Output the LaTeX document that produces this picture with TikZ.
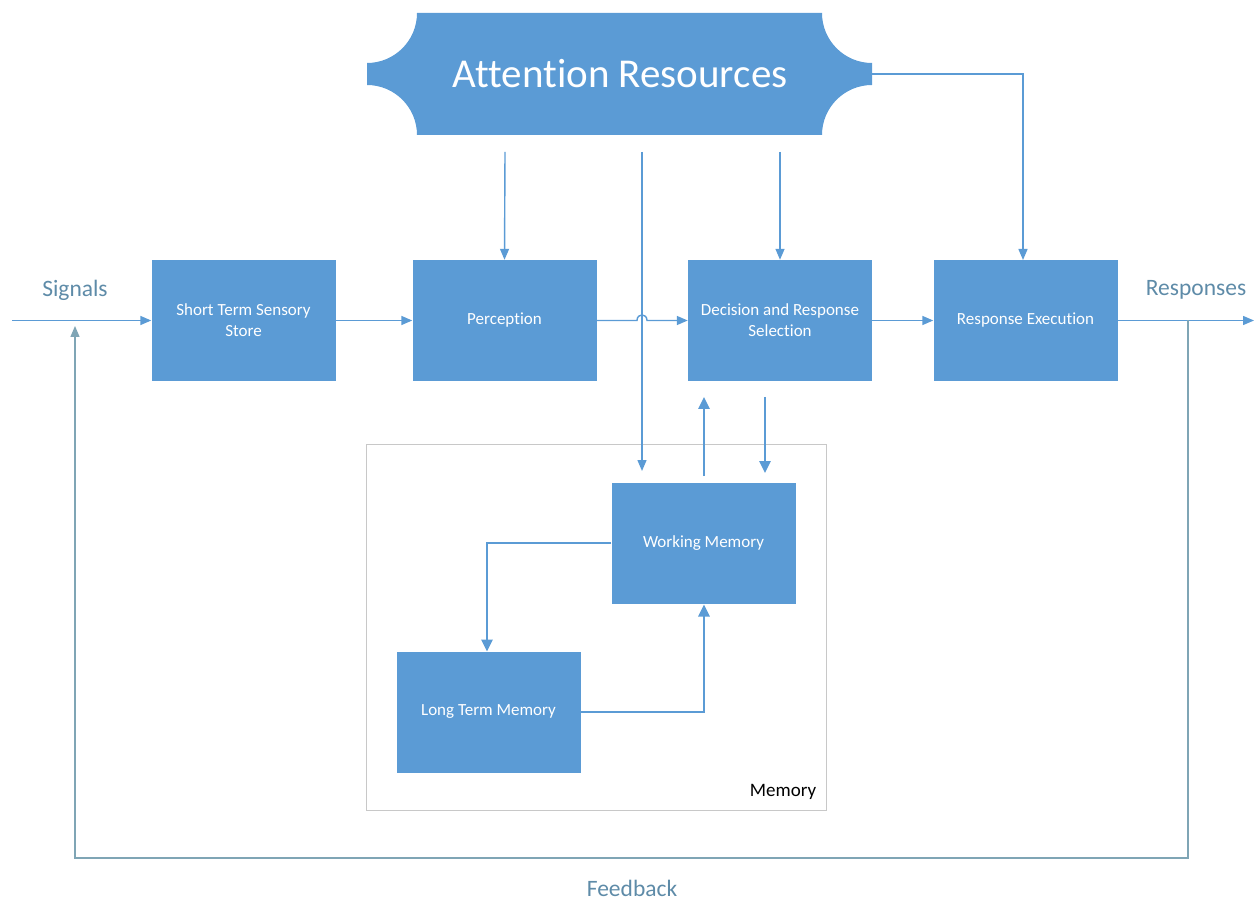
\documentclass[tikz,border=0pt]{standalone}
\usepackage{fontspec}
\setmainfont{Carlito}[Ligatures=NoCommon]
\usetikzlibrary{arrows.meta}
\definecolor{boxblue}{HTML}{5B9BD5}
\definecolor{lineblue}{HTML}{5B9BD5}
\definecolor{labelgray}{HTML}{5E8BA8}
\definecolor{fbline}{HTML}{7FA5B5}
\definecolor{framegray}{HTML}{C8C8C8}
\tikzset{
  box/.style={fill=boxblue, draw=none, minimum width=184pt, minimum height=121pt, inner sep=0pt,
    text=white, font=\fontsize{17}{21}\selectfont, align=center},
  thinarrow/.style={draw=lineblue, line width=1.4pt, -{Triangle[length=11pt,width=9pt]}},
  thickarrow/.style={draw=lineblue, line width=2.6pt, -{Triangle[length=12pt,width=11pt]}},
  biglabel/.style={text=labelgray, font=\fontsize{23.5}{26}\selectfont},
}
\begin{document}
\begin{tikzpicture}[x=1pt,y=-1pt]
\useasboundingbox (0,0) rectangle (1254,901);
% attention resources shape
\fill[boxblue] (417,13) -- (822,13)
  .. controls (822,40.6) and (844.4,63) .. (872,63) -- (872,85)
  .. controls (844.4,85) and (822,107.4) .. (822,135) -- (417,135)
  .. controls (417,107.4) and (394.6,85) .. (367,85) -- (367,63)
  .. controls (394.6,63) and (417,40.6) .. (417,13) -- cycle;
\node[text=white, font=\fontsize{41}{45}\selectfont] (att) at (620,74) {Attention Resources};
% memory frame
\node[draw=framegray, line width=1pt, minimum width=460pt, minimum height=365pt, inner sep=0pt] (memframe) at (596,627.5) {};
\node[font=\fontsize{19}{22}\selectfont, text=black] (memlabel) at (783,792) {Memory};
% boxes
\node[box] (sts) at (243.5,320.5) {Short Term Sensory\\Store};
\node[box] (perc) at (504.5,320.5) {Perception};
\node[box] (dec) at (780,320.5) {Decision and Response\\Selection};
\node[box] (exec) at (1025.5,320.5) {Response Execution};
\node[box] (wm) at (703.5,543) {Working Memory};
\node[box] (ltm) at (488.5,712) {Long Term Memory};
% labels
\node[biglabel] (sig) at (75,290) {Signals};
\node[biglabel] (resp) at (1196,290) {Responses};
\node[biglabel] (fb) at (632,888) {Feedback};
% coordinates
\coordinate (in) at (12,320.5);
\coordinate (out) at (1254,320.5);
\coordinate (a1) at (505,152);
\coordinate (a2) at (642,152);
\coordinate (a3) at (780,152);
\coordinate (a4) at (872,74);
\coordinate (a2end) at (642,471);
\coordinate (a4turn) at (1023,74);
\coordinate (a4end) at (1023,260);
\coordinate (d1) at (704,476);
\coordinate (d2) at (704,397);
\coordinate (d3) at (765,397);
\coordinate (d4) at (765,473);
\coordinate (m1) at (487,543);
\coordinate (m2) at (487,651.5);
\coordinate (m3) at (704,712);
\coordinate (m4) at (704,604.5);
\coordinate (fbsplit) at (1188,320.5);
\coordinate (fbc1) at (1188,858);
\coordinate (fbc2) at (75,858);
\coordinate (fbjoin) at (75,326);
% main flow
\draw[thinarrow] (in) -- (sts.west);
\draw[thinarrow] (sts.east) -- (perc.west);
\draw[thinarrow] (perc.east) -- (637,320.5) .. controls (637,313) and (647,313) .. (647,320.5) -- (dec.west);
\draw[thinarrow] (dec.east) -- (exec.west);
\draw[thinarrow] (exec.east) -- (out);
% attention arrows
\draw[thinarrow] (a1) -- (perc.north);
\draw[thinarrow] (a2) -- (a2end);
\draw[thinarrow] (a3) -- (dec.north);
\draw[thinarrow] (a4) -- (a4turn) -- (a4end);
% decision <-> working memory
\draw[thickarrow] (d1) -- (d2);
\draw[thickarrow] (d3) -- (d4);
% memory loop
\draw[thickarrow] (wm.west) -- (m1) -- (m2);
\draw[thickarrow] (ltm.east) -- (m3) -- (m4);
% feedback
\draw[draw=fbline, line width=1.4pt, -{Triangle[length=11pt,width=9pt]}] (fbsplit) -- (fbc1) -- (fbc2) -- (fbjoin);
\end{tikzpicture}
\end{document}
